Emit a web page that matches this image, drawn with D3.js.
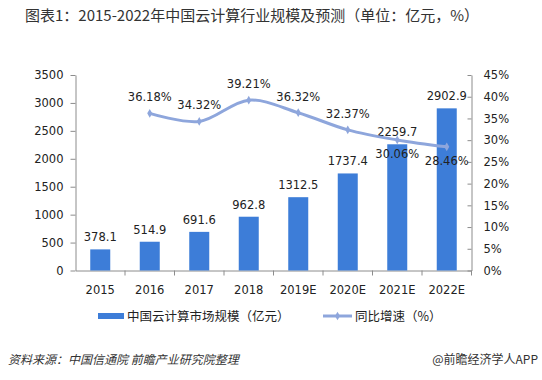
<!DOCTYPE html>
<html><head><meta charset="utf-8">
<script src="https://cdn.jsdelivr.net/npm/d3@7"></script>
<style>body{margin:0;background:#fff;}svg{display:block;font-family:"Noto Sans CJK SC","Liberation Sans",sans-serif;}</style>
</head><body>
<script>
const categories = ["2015","2016","2017","2018","2019E","2020E","2021E","2022E"];
const marketSize = [378.1, 514.9, 691.6, 962.8, 1312.5, 1737.4, 2259.7, 2902.9];
const growth = [null, 36.18, 34.32, 39.21, 36.32, 32.37, 30.06, 28.46];
const leftTicks = [0,500,1000,1500,2000,2500,3000,3500];
const rightTicks = [0,5,10,15,20,25,30,35,40,45];

const W = 542, H = 380;
const svg = d3.select("body").append("svg").attr("width", W).attr("height", H);
const pLeft = 75.5, pRight = 471.5, pTop = 75, pBottom = 270.5;
const barColor = "#3D7DD8", lineColor = "#8EA6DC", axisColor = "#8c8c8c", txt = "#222";
const numFont = "DejaVu Sans, sans-serif";

const x = d3.scaleBand().domain(categories).range([pLeft, pRight]).paddingInner(0).paddingOuter(0);
const y = d3.scaleLinear().domain([0, 3500]).range([pBottom, pTop]);
const y2 = d3.scaleLinear().domain([0, 45]).range([pBottom, pTop]);

// title
svg.append("text").attr("x", 25).attr("y", 21).attr("font-size", 15).attr("fill", "#333")
  .text("图表1：2015-2022年中国云计算行业规模及预测（单位：亿元，%）");

// left axis
const gl = svg.append("g").attr("transform", `translate(${pLeft},0)`)
  .call(d3.axisLeft(y).tickValues(leftTicks).tickFormat(d3.format("d")).tickSize(5).tickPadding(7).tickSizeOuter(0));
gl.selectAll("path,line").attr("stroke", axisColor);
gl.selectAll("text").attr("font-size", 11.5).attr("fill", txt).attr("font-family", numFont);

// right axis
const gr = svg.append("g").attr("transform", `translate(${pRight},0)`)
  .call(d3.axisRight(y2).tickValues(rightTicks).tickFormat(d => d + "%").tickSize(-4).tickPadding(12).tickSizeOuter(0));
gr.selectAll("path,line").attr("stroke", axisColor);
gr.selectAll("text").attr("font-size", 11.5).attr("fill", txt).attr("font-family", numFont);

// bottom axis
const gb = svg.append("g").attr("transform", `translate(0,${pBottom})`)
  .call(d3.axisBottom(x).tickSize(5).tickPadding(10).tickSizeOuter(0));
gb.selectAll(".tick line").attr("transform", d => `translate(${x.bandwidth()/2},0)`);
gb.selectAll("path,line").attr("stroke", axisColor);
gb.selectAll("text").attr("font-size", 11.5).attr("fill", txt).attr("font-family", numFont);

// bars
const bw = 20;
svg.append("g").selectAll("rect").data(marketSize).join("rect")
  .attr("x", (d, i) => x(categories[i]) + x.bandwidth()/2 - bw/2)
  .attr("y", d => y(d)).attr("width", bw).attr("height", d => y(0) - y(d))
  .attr("fill", barColor);
svg.append("g").selectAll("text").data(marketSize).join("text")
  .attr("x", (d, i) => x(categories[i]) + x.bandwidth()/2)
  .attr("y", d => y(d) - 8).attr("text-anchor", "middle")
  .attr("font-size", 11.5).attr("fill", txt).attr("font-family", numFont)
  .text(d => d);

// line
const pts = growth.map((g, i) => ({c: categories[i], g})).filter(p => p.g !== null);
const line = d3.line().x(p => x(p.c) + x.bandwidth()/2).y(p => y2(p.g)).curve(d3.curveCatmullRom.alpha(0.5));
svg.append("path").datum(pts).attr("d", line).attr("fill", "none")
  .attr("stroke", lineColor).attr("stroke-width", 3);
svg.append("g").selectAll("path").data(pts).join("path")
  .attr("d", d3.symbol(d3.symbolDiamond, 22))
  .attr("transform", p => `translate(${x(p.c) + x.bandwidth()/2},${y2(p.g)})`)
  .attr("fill", lineColor);
svg.append("g").selectAll("text").data(pts).join("text")
  .attr("x", p => x(p.c) + x.bandwidth()/2)
  .attr("y", (p, i) => i >= pts.length - 2 ? y2(p.g) + 18 : y2(p.g) - 12)
  .attr("text-anchor", "middle")
  .attr("font-size", 11.5).attr("fill", txt).attr("font-family", numFont)
  .text(p => p.g.toFixed(2) + "%");

// legend
const lg = svg.append("g");
lg.append("rect").attr("x", 98).attr("y", 313).attr("width", 26).attr("height", 6).attr("fill", barColor);
lg.append("text").attr("x", 127).attr("y", 321).attr("font-size", 12.5).attr("fill", txt).text("中国云计算市场规模（亿元）");
lg.append("line").attr("x1", 323).attr("x2", 352).attr("y1", 316).attr("y2", 316).attr("stroke", lineColor).attr("stroke-width", 3);
lg.append("path").attr("d", d3.symbol(d3.symbolDiamond, 22)).attr("transform", "translate(337.5,316)").attr("fill", lineColor);
lg.append("text").attr("x", 355).attr("y", 321).attr("font-size", 12.5).attr("fill", txt).text("同比增速（%）");

// footer
svg.append("text").attr("x", 8).attr("y", 364).attr("font-size", 12).attr("fill", "#333")
  .attr("font-style", "italic").text("资料来源：中国信通院 前瞻产业研究院整理");
svg.append("text").attr("x", 538).attr("y", 364).attr("text-anchor", "end").attr("font-size", 12).attr("fill", "#333")
  .text("@前瞻经济学人APP");
</script>
</body></html>
